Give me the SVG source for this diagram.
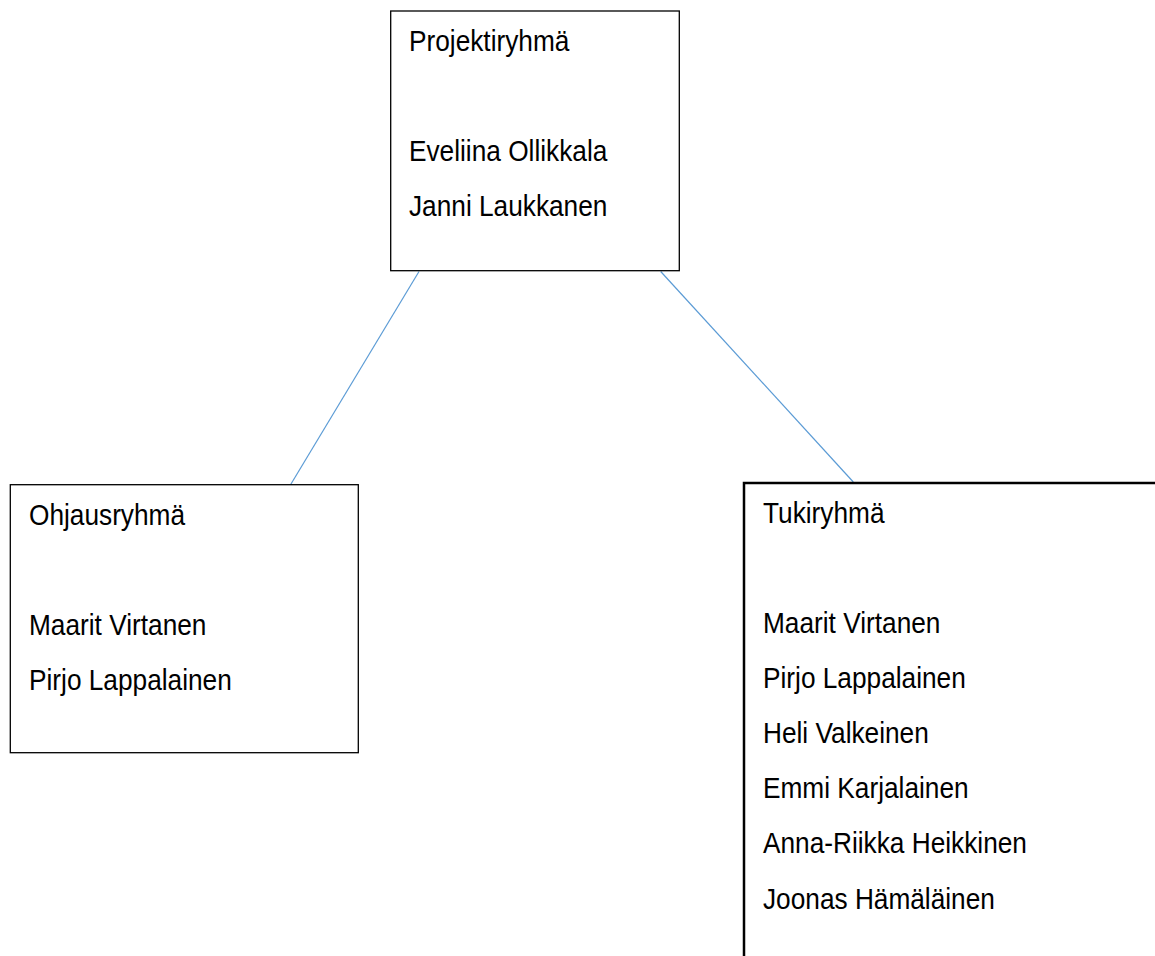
<svg xmlns="http://www.w3.org/2000/svg" width="1155" height="956" viewBox="0 0 1155 956">
<style>
.box{fill:#ffffff;stroke:#000000;stroke-width:1.3}
.thick{stroke-width:2.5}
.conn{stroke:#5B9BD5;stroke-width:1.2;fill:none}
text{font-family:"Liberation Sans",Arial,sans-serif;font-size:30px;fill:#000000}
</style>
<rect width="1155" height="956" fill="#ffffff"/>
<g id="connectors">
<line class="conn" x1="419" y1="271.5" x2="290.7" y2="484.5"/>
<line class="conn" x1="660.7" y1="271.5" x2="853.3" y2="482"/>
</g>
<g id="projektiryhma">
<rect class="box" x="390.7" y="11" width="288.6" height="259.7"/>
<g transform="translate(409 0) scale(0.875 1)">
<text x="0" y="51">Projektiryhmä</text>
<text x="0" y="161">Eveliina Ollikkala</text>
<text x="0" y="216">Janni Laukkanen</text>
</g>
</g>
<g id="ohjausryhma">
<rect class="box" x="10.3" y="484.7" width="348" height="268"/>
<g transform="translate(29 0) scale(0.875 1)">
<text x="0" y="525">Ohjausryhmä</text>
<text x="0" y="635">Maarit Virtanen</text>
<text x="0" y="690.5">Pirjo Lappalainen</text>
</g>
</g>
<g id="tukiryhma">
<rect class="box thick" x="744" y="483" width="500" height="600"/>
<g transform="translate(763 0) scale(0.875 1)">
<text x="0" y="523.5">Tukiryhmä</text>
<text x="0" y="633.5">Maarit Virtanen</text>
<text x="0" y="688.5">Pirjo Lappalainen</text>
<text x="0" y="743.5">Heli Valkeinen</text>
<text x="0" y="798.5">Emmi Karjalainen</text>
<text x="0" y="853.5">Anna-Riikka Heikkinen</text>
<text x="0" y="909">Joonas Hämäläinen</text>
</g>
</g>
</svg>
